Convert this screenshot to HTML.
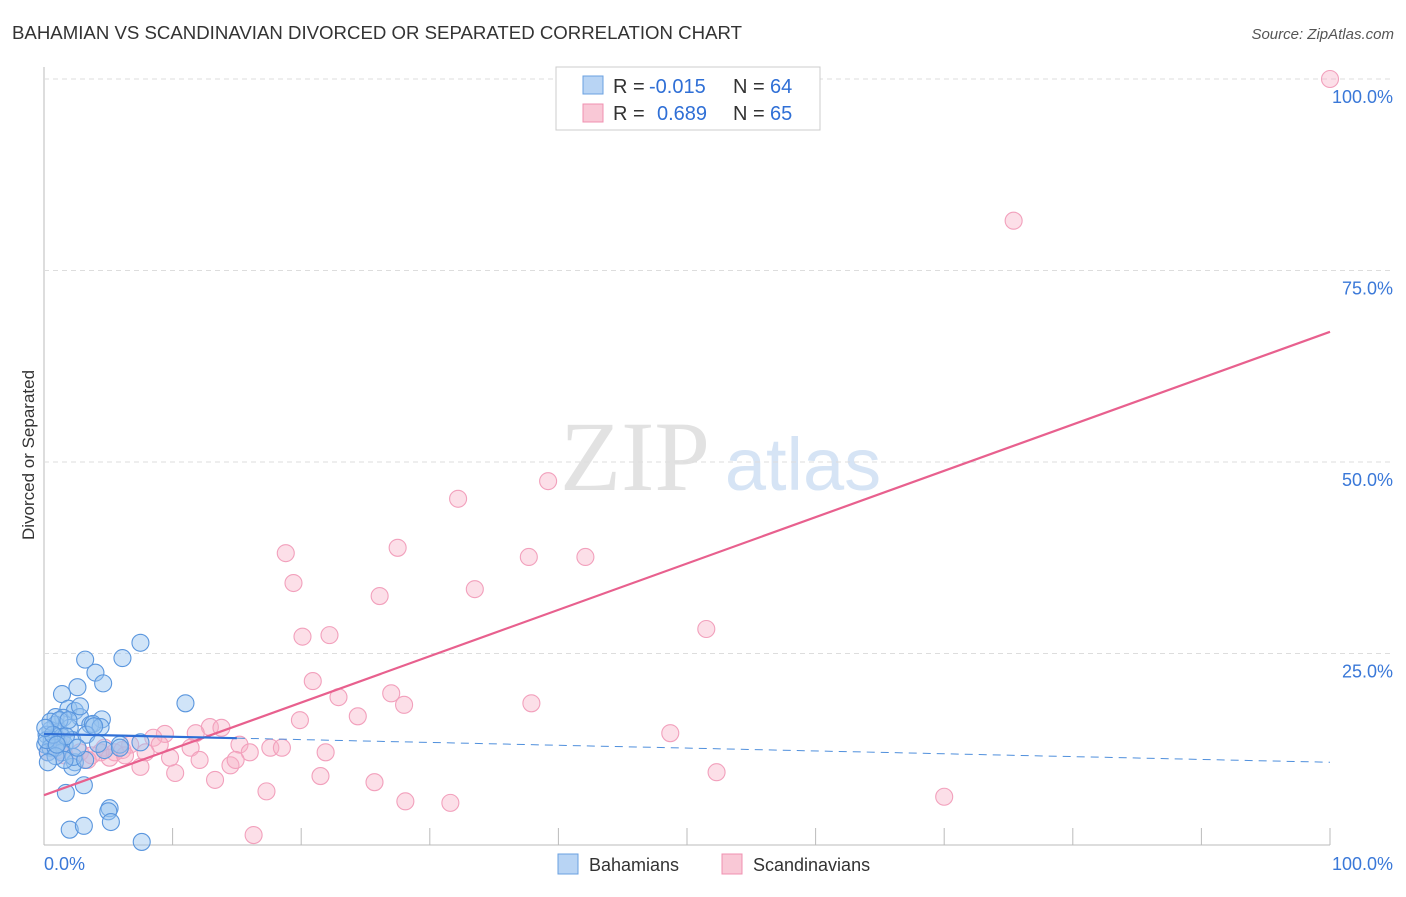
<!DOCTYPE html>
<html><head><meta charset="utf-8"><style>
body{margin:0;background:#fff;font-family:"Liberation Sans",sans-serif}
</style></head><body>
<svg width="1406" height="892" xmlns="http://www.w3.org/2000/svg" id="c" style="font-family:'Liberation Sans',sans-serif">
<text x="12" y="39" font-size="18" fill="#333" textLength="730" lengthAdjust="spacingAndGlyphs">BAHAMIAN VS SCANDINAVIAN DIVORCED OR SEPARATED CORRELATION CHART</text>
<text x="1394" y="39" font-size="15" fill="#555" text-anchor="end" font-style="italic">Source: ZipAtlas.com</text>
<text x="635" y="490" font-size="100" fill="#e2e2e2" font-family="Liberation Serif" text-anchor="middle">ZIP</text>
<text x="803" y="490" font-size="74" fill="#d6e4f5" text-anchor="middle">atlas</text>
<text x="34" y="455" font-size="17" fill="#333" text-anchor="middle" transform="rotate(-90 34 455)">Divorced or Separated</text>
<g id="grid"></g><g id="pts"></g><g id="lines"></g>
<g font-size="20">
<rect x="556" y="67" width="264" height="63" fill="#fff" stroke="#ccc"/>
<rect x="583" y="76" width="20" height="18" fill="#b8d4f4" stroke="#6aa0e0"/>
<rect x="583" y="104" width="20" height="18" fill="#f9c8d6" stroke="#f090b0"/>
<text x="613" y="93" fill="#333">R =</text>
<text x="649" y="93" fill="#2f6fd6">-0.015</text>
<text x="733" y="93" fill="#333">N =</text>
<text x="770" y="93" fill="#2f6fd6">64</text>
<text x="613" y="120" fill="#333">R =</text>
<text x="657" y="120" fill="#2f6fd6">0.689</text>
<text x="733" y="120" fill="#333">N =</text>
<text x="770" y="120" fill="#2f6fd6">65</text>
</g>
<g>
<rect x="558" y="854" width="20" height="20" fill="#b8d4f4" stroke="#6aa0e0"/>
<text x="589" y="871" font-size="18" fill="#333">Bahamians</text>
<rect x="722" y="854" width="20" height="20" fill="#f9c8d6" stroke="#f090b0"/>
<text x="753" y="871" font-size="18" fill="#333">Scandinavians</text>
</g>
</svg>
<script>
const blueX=[7.5,6.1,3.2,4.0,4.6,2.6,1.4,11.0,1.9,2.4,0.9,1.5,2.8,4.5,3.6,0.9,0.5,1.2,2.0,3.8,0.2,0.6,1.1,1.4,0.1,0.5,1.6,2.2,4.4,3.3,5.9,7.5,4.7,1.4,0.3,0.9,2.4,2.2,3.1,1.7,5.1,5.0,5.2,2.0,3.1,7.6,2.3,1.6,3.2,4.2,0.9,0.2,0.5,2.8,3.9,1.2,1.7,2.6,0.7,5.9,0.1,0.3,1.0,1.9];
const blueY=[26.4,24.4,24.2,22.5,21.1,20.6,19.7,18.5,17.8,17.5,16.7,16.6,16.7,16.4,15.7,15.7,15.0,14.8,15.3,15.8,14.4,13.7,13.4,14.1,13.1,12.7,13.1,13.7,15.4,14.4,13.1,13.4,12.4,12.1,12.1,12.7,10.8,10.2,7.8,6.8,4.8,4.4,3.0,2.0,2.5,0.4,11.5,11.1,11.1,13.2,11.6,13.7,16.1,18.1,15.5,16.3,14.2,12.7,14.4,12.7,15.3,10.8,13.1,16.3];
const pinkX=[100,75.4,39.2,32.2,27.5,18.8,37.7,42.1,19.4,33.5,26.1,51.5,20.1,22.2,20.9,22.9,27.0,37.9,28.0,24.4,19.9,12.9,13.8,9.4,8.5,11.8,48.7,15.2,21.9,11.4,6.7,4.7,16.0,17.6,18.5,9.0,5.5,14.5,7.5,10.2,21.5,52.3,13.3,25.7,17.3,28.1,31.6,70.0,16.3,6.1,4.4,2.8,1.2,0.3,0.9,3.7,5.1,6.3,9.8,12.1,7.9,14.9,1.2,1.6,3.4];
const pinkY=[100,81.5,47.5,45.2,38.8,38.1,37.6,37.6,34.2,33.4,32.5,28.2,27.2,27.4,21.4,19.3,19.8,18.5,18.3,16.8,16.3,15.4,15.3,14.5,14.0,14.6,14.6,13.1,12.1,12.7,13.1,12.7,12.1,12.7,12.7,13.1,12.1,10.4,10.2,9.4,9.0,9.5,8.5,8.2,7.0,5.7,5.5,6.3,1.3,12.4,12.1,12.1,12.4,12.1,13.1,11.7,11.4,11.7,11.4,11.1,12.1,11.1,13.7,11.7,11.1];
const pinkTrend=[6.5,67.0];
const blueTrend=[14.5,10.8];
const blueSolidEnd=15;
const yTicks=[25,50,75,100];
const NS="http://www.w3.org/2000/svg";
const X=v=>44+v*12.86, Y=v=>845-v*7.66;
function mk(t,a,p){const e=document.createElementNS(NS,t);for(const k in a)e.setAttribute(k,a[k]);p.appendChild(e);return e;}
const g=document.getElementById('grid');
mk('line',{x1:44,y1:67,x2:44,y2:845,stroke:'#bbb'},g);
mk('line',{x1:44,y1:845,x2:1330,y2:845,stroke:'#bbb'},g);
yTicks.forEach(t=>{
 const l=mk('line',{x1:44,y1:Y(t),x2:1394,y2:Y(t),stroke:'#ddd','stroke-dasharray':'5,4'},g);
 
 
 const tx=mk('text',{x:1393,y:Y(t)+24,'font-size':18,fill:'#3a78d8','text-anchor':'end'},g);
 tx.textContent=t.toFixed(1)+'%';
 
 
});
for(let i=1;i<=10;i++){const l=mk('line',{x1:X(i*10),y1:828,x2:X(i*10),y2:845,stroke:'#bbb'},g);
 
 }
const x0=mk('text',{x:44,y:870,'font-size':18,fill:'#3a78d8'},g);x0.textContent='0.0%';


const x1=mk('text',{x:1393,y:870,'font-size':18,fill:'#3a78d8','text-anchor':'end'},g);x1.textContent='100.0%';


const p=document.getElementById('pts');
pinkX.forEach((v,i)=>{const c=mk('circle',{cx:X(v),cy:Y(pinkY[i]),r:8.5,fill:'rgba(247,175,198,0.4)',stroke:'#f2a0bc','stroke-width':1.1},p);
 
 });
blueX.forEach((v,i)=>{const c=mk('circle',{cx:X(v),cy:Y(blueY[i]),r:8.5,fill:'rgba(150,195,240,0.45)',stroke:'#5a96de','stroke-width':1.1},p);
 
 });
const L=document.getElementById('lines');
const by=v=>blueTrend[0]+(blueTrend[1]-blueTrend[0])*v/100;
const pl=mk('line',{x1:X(0),y1:Y(pinkTrend[0]),x2:X(100),y2:Y(pinkTrend[1]),stroke:'#e8608e','stroke-width':2.2},L);


const bl=mk('line',{x1:X(0),y1:Y(by(0)),x2:X(blueSolidEnd),y2:Y(by(blueSolidEnd)),stroke:'#2f6fd6','stroke-width':2.2},L);


const bd=mk('line',{x1:X(blueSolidEnd),y1:Y(by(blueSolidEnd)),x2:X(100),y2:Y(by(100)),stroke:'#4f8fdc','stroke-width':1,'stroke-dasharray':'8,6'},L);


</script>
</body></html>
